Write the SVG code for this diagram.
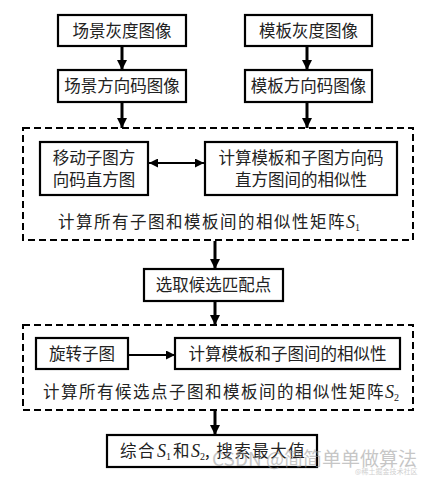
<svg xmlns="http://www.w3.org/2000/svg" width="438" height="480" viewBox="0 0 438 480">
<style>
.box{fill:#fff;stroke:#000;stroke-width:2.2}
.dash{fill:none;stroke:#000;stroke-width:2;stroke-dasharray:7 4}
.t{font-family:"Noto Sans CJK SC","Noto Sans CJK JP",sans-serif;font-size:16.5px;fill:#222;text-anchor:middle}
.tl{font-family:"Noto Sans CJK SC","Noto Sans CJK JP",sans-serif;font-size:16.5px;fill:#222;letter-spacing:1.5px}
.s{font-family:"Liberation Serif",serif;font-style:italic;font-size:18px;letter-spacing:0}
.sub{font-family:"Liberation Serif",serif;font-size:10px;font-style:normal;letter-spacing:0}
.ln{stroke:#000;stroke-width:3;fill:none}
.ln2{stroke:#000;stroke-width:2;fill:none}
</style>
<defs>
<marker id="ah" viewBox="0 0 10 10" refX="10" refY="5" markerWidth="10" markerHeight="10" markerUnits="userSpaceOnUse" orient="auto-start-reverse">
<path d="M0,0 L10,5 L0,10 Z" fill="#000"/>
</marker>
<marker id="ah2" viewBox="0 0 10 10" refX="10" refY="5" markerWidth="10" markerHeight="9" markerUnits="userSpaceOnUse" orient="auto-start-reverse">
<path d="M0,0 L10,5 L0,10 Z" fill="#000"/>
</marker>
</defs>
<rect width="438" height="480" fill="#fff"/>
<g id="connectors">
<line class="ln" x1="122" y1="47" x2="122" y2="70" marker-end="url(#ah)"/>
<line class="ln" x1="307" y1="47" x2="307" y2="70" marker-end="url(#ah)"/>
<line class="ln" x1="122" y1="102" x2="122" y2="128" marker-end="url(#ah)"/>
<line class="ln" x1="307" y1="102" x2="307" y2="128" marker-end="url(#ah)"/>
<line class="ln2" x1="149" y1="163" x2="204" y2="163" marker-start="url(#ah2)" marker-end="url(#ah2)"/>
<line class="ln" x1="215" y1="241" x2="215" y2="269" marker-end="url(#ah)"/>
<line class="ln" x1="215" y1="302" x2="215" y2="325" marker-end="url(#ah)"/>
<line class="ln2" x1="129" y1="355" x2="175" y2="355" marker-end="url(#ah2)"/>
<line class="ln" x1="215" y1="411" x2="215" y2="435" marker-end="url(#ah)"/>
</g>
<g id="n1"><rect class="box" x="58" y="15" width="128" height="31"/><text class="t" x="122" y="37">场景灰度图像</text></g>
<g id="n2"><rect class="box" x="245" y="15" width="127" height="31"/><text class="t" x="308.5" y="37">模板灰度图像</text></g>
<g id="n3"><rect class="box" x="58" y="70" width="128" height="32"/><text class="t" x="122" y="92">场景方向码图像</text></g>
<g id="n4"><rect class="box" x="245" y="70" width="127" height="32"/><text class="t" x="308.5" y="92">模板方向码图像</text></g>
<g id="group1">
<rect class="dash" x="23" y="128" width="390" height="112"/>
<text class="tl" x="58" y="228">计算所有子图和模板间的相似性矩阵<tspan class="s">S</tspan><tspan class="sub" dy="3">1</tspan></text>
</g>
<g id="n5"><rect class="box" x="40" y="142" width="108" height="53"/><text class="t" x="94" y="164">移动子图方</text><text class="t" x="94" y="186">向码直方图</text></g>
<g id="n6"><rect class="box" x="205" y="142" width="192" height="53"/><text class="t" x="301" y="164">计算模板和子图方向码</text><text class="t" x="301" y="186">直方图间的相似性</text></g>
<g id="n7"><rect class="box" x="144" y="269" width="139" height="32"/><text class="t" x="213.5" y="291">选取候选匹配点</text></g>
<g id="group2">
<rect class="dash" x="23" y="325" width="390" height="85"/>
<text class="tl" x="43" y="398">计算所有候选点子图和模板间的相似性矩阵<tspan class="s">S</tspan><tspan class="sub" dy="3">2</tspan></text>
</g>
<g id="n8"><rect class="box" x="36" y="338" width="92" height="31"/><text class="t" x="82" y="360">旋转子图</text></g>
<g id="n9"><rect class="box" x="175" y="338" width="225" height="31"/><text class="t" x="287.5" y="360">计算模板和子图间的相似性</text></g>
<g id="n10"><rect class="box" x="107" y="435" width="210" height="32"/><text class="tl" x="120" y="457">综合<tspan class="s" dx="1">S</tspan><tspan class="sub" dy="3">1</tspan><tspan dy="-3" dx="2">和</tspan><tspan class="s">S</tspan><tspan class="sub" dy="3">2</tspan><tspan dy="-3">, 搜索最大值</tspan></text></g>
<g id="watermark" opacity="0.55">
<text x="212" y="466" font-family="'Noto Sans CJK SC',sans-serif" font-size="19" fill="#999">CSDN @简简单单做算法</text>
<text x="355" y="474" font-family="'Noto Sans CJK SC',sans-serif" font-size="7" fill="#aaa">@稀土掘金技术社区</text>
</g>
</svg>
